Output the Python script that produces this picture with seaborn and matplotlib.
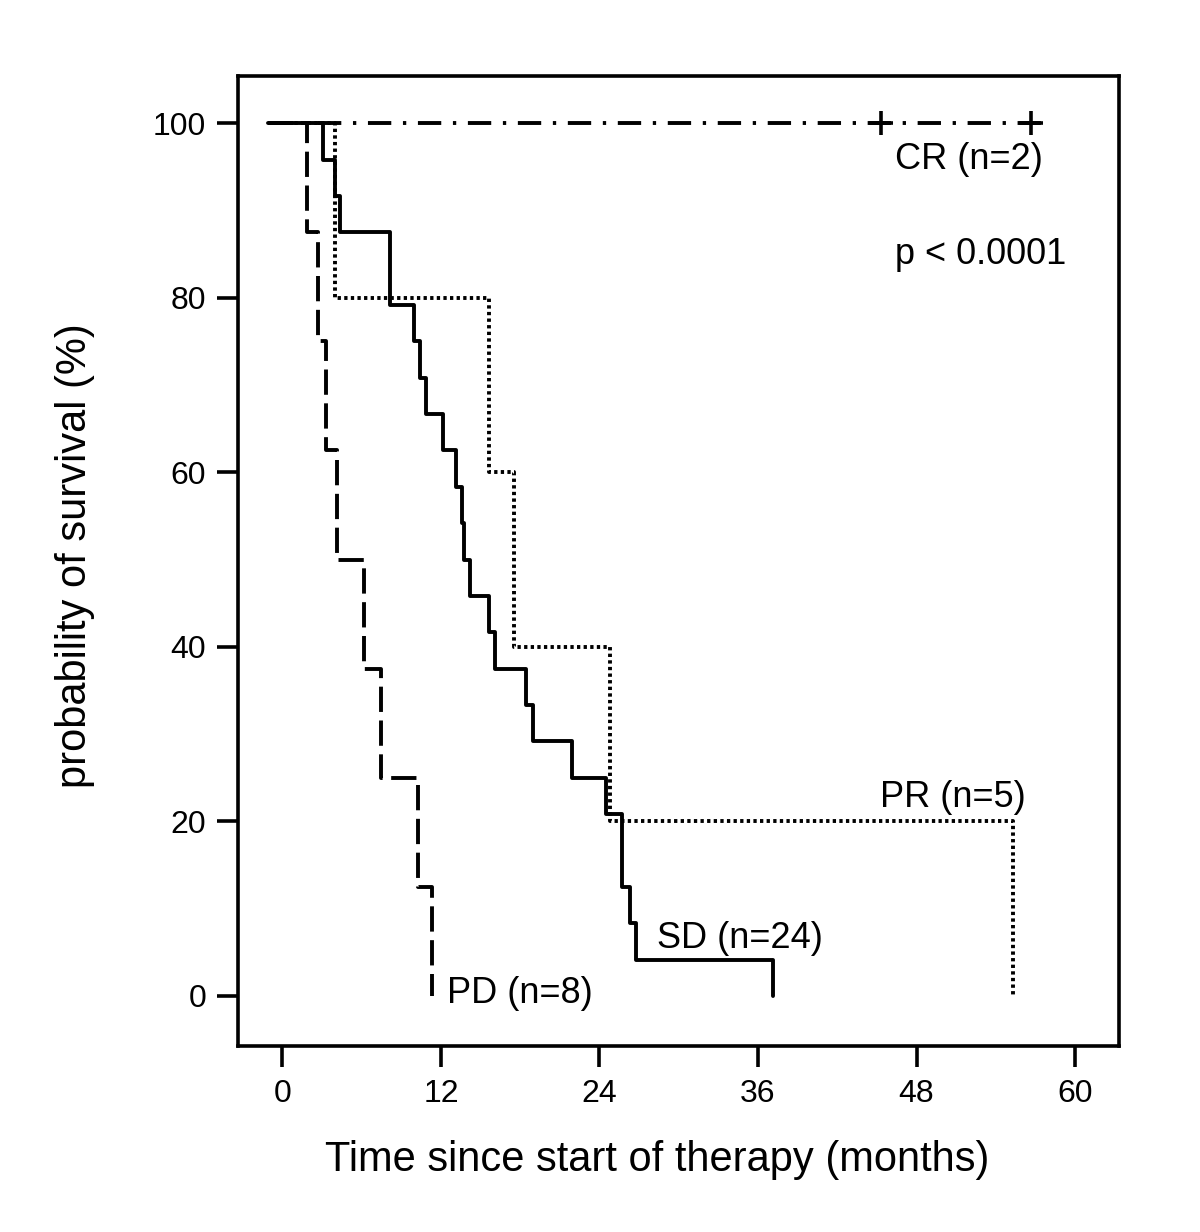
import numpy as np
import pandas as pd
import seaborn as sns
import matplotlib.pyplot as plt

# Kaplan-Meier step data (months, % surviving)
start_t = -1.1

sd_times = [start_t, 3.09, 3.97, 4.35, 8.14, 9.98, 10.41, 10.84, 12.13, 13.11, 13.57,
            13.74, 14.19, 15.65, 16.09, 18.41, 18.99, 21.94, 24.49, 25.68, 26.31,
            26.74, 37.15]
sd_surv = [100, 95.83, 91.67, 87.5, 79.17, 75.0, 70.83, 66.67, 62.5, 58.33, 54.17,
           50.0, 45.83, 41.67, 37.5, 33.33, 29.17, 25.0, 20.83, 12.5, 8.33,
           4.17, 0]

pd_times = [start_t, 1.83, 2.66, 3.29, 4.15, 6.19, 7.46, 10.26, 11.32]
pd_surv = [100, 87.5, 75.0, 62.5, 50.0, 37.5, 25.0, 12.5, 0]

pr_times = [start_t, 3.97, 15.65, 17.55, 24.79, 55.3]
pr_surv = [100, 80, 60, 40, 20, 0]

cr_times = [start_t, 57.5]
cr_surv = [100, 100]
cr_censored = [45.3, 56.7]

sns.set_theme(style="ticks")
plt.rcParams['font.family'] = ['Liberation Sans', 'DejaVu Sans']
plt.rcParams['text.color'] = 'black'
plt.rcParams['axes.labelcolor'] = 'black'

fig = plt.figure(figsize=(12, 12.32), dpi=100)
ax = fig.add_axes([0.1983, 0.151, 0.7342, 0.7873])

lw = 2.8
line_kw = dict(estimator=None, errorbar=None, color='black', linewidth=lw,
               drawstyle='steps-post', ax=ax, legend=False)

sns.lineplot(x=pd_times, y=pd_surv, linestyle=(0, (6.5, 2.2)), **line_kw)
sns.lineplot(x=pr_times, y=pr_surv, linestyle=(0, (0.85, 0.85)), **line_kw)
sns.lineplot(x=sd_times, y=sd_surv, linestyle='-', **line_kw)
sns.lineplot(x=cr_times, y=cr_surv, linestyle=(0, (6, 3, 0.85, 3)), **line_kw)
sns.scatterplot(x=cr_censored, y=[100] * len(cr_censored), marker='+', s=320,
                color='black', linewidth=2.6, ax=ax, legend=False)

txt = dict(fontsize=26, va='center', ha='left', color='black')
ax.text(46.4, 95.8, 'CR (n=2)', **txt)
ax.text(46.4, 84.9, 'p < 0.0001', **txt)
ax.text(45.2, 22.7, 'PR (n=5)', **txt)
ax.text(28.35, 6.6, 'SD (n=24)', **txt)
ax.text(12.45, 0.3, 'PD (n=8)', **txt)

ax.set_xlim(-3.37, 63.33)
ax.set_ylim(-5.73, 105.4)
ax.set_xticks([0, 12, 24, 36, 48, 60])
ax.set_yticks([0, 20, 40, 60, 80, 100])

for side in ax.spines.values():
    side.set_visible(True)
    side.set_linewidth(2.6)
    side.set_color('black')
ax.tick_params(axis='both', direction='out', length=15, width=2.6, labelsize=23,
               colors='black')
ax.tick_params(axis='x', pad=9)
ax.tick_params(axis='y', pad=8)

ax.set_xlabel('Time since start of therapy (months)', fontsize=30)
ax.set_ylabel('probability of survival (%)', fontsize=30)
ax.xaxis.set_label_coords(0.4756, -0.1175)
ax.yaxis.set_label_coords(-0.185, 0.506)
ax.xaxis.label.set_va('center')
ax.yaxis.label.set_va('center')

fig.savefig('out.png', dpi=100, facecolor='white')
